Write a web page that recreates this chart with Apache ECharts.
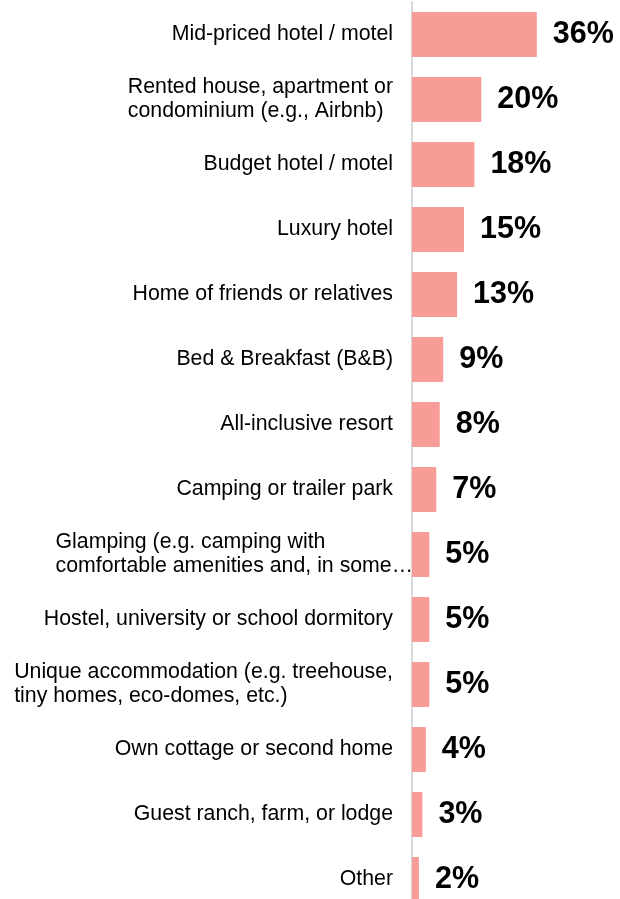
<!DOCTYPE html>
<html>
<head>
<meta charset="utf-8">
<script src="https://cdn.jsdelivr.net/npm/echarts@6/dist/echarts.min.js"></script>
<style>
  html, body { margin: 0; padding: 0; background: #ffffff; }
  #chart { width: 620px; height: 899px; }
</style>
</head>
<body>
<div id="chart"></div>
<script>
// Accommodation types, top to bottom
const categories = [
  "Mid-priced hotel / motel",
  "Rented house, apartment or\ncondominium (e.g., Airbnb)",
  "Budget hotel / motel",
  "Luxury hotel",
  "Home of friends or relatives",
  "Bed & Breakfast (B&B)",
  "All-inclusive resort",
  "Camping or trailer park",
  "Glamping (e.g. camping with\ncomfortable amenities and, in some\u2026",
  "Hostel, university or school dormitory",
  "Unique accommodation (e.g. treehouse,\ntiny homes, eco-domes, etc.)",
  "Own cottage or second home",
  "Guest ranch, farm, or lodge",
  "Other"
];

// Share of respondents (%)
const shares = [36, 20, 18, 15, 13, 9, 8, 7, 5, 5, 5, 4, 3, 2];

const FONT = "'Liberation Sans', Arial, sans-serif";
const BAR_COLOR = "#f89c98";

// Multi-line labels: lines left-aligned inside a right-aligned block.
function categoryLabel(value) {
  const lines = value.split("\n");
  if (lines.length === 1) return value;
  return lines.map(function (line) {
    const truncated = line.endsWith("\u2026");
    return "{" + (truncated ? "t" : "l") + "|" + line + "}";
  }).join("\n");
}

const richLine = { align: "left", fontSize: 21.3, lineHeight: 24, fontFamily: FONT, color: "#000000" };

const chart = echarts.init(document.getElementById("chart"), null, { renderer: "canvas" });
chart.setOption({
  backgroundColor: "#ffffff",
  animation: false,
  // 14 bands of 65px; the last band runs past the bottom edge
  grid: {
    left: 412, width: 208, top: 2, height: 910,
    containLabel: false,
    outerBoundsMode: "none"
  },
  xAxis: {
    type: "value",
    min: 0,
    max: 60,
    show: false
  },
  yAxis: {
    type: "category",
    inverse: true,
    data: categories,
    axisLine: { show: true, lineStyle: { color: "#d9d9d9", width: 2 } },
    axisTick: { show: false },
    splitLine: { show: false },
    axisLabel: {
      margin: 19,
      interval: 0,
      fontSize: 21.3,
      lineHeight: 24,
      fontFamily: FONT,
      color: "#000000",
      formatter: categoryLabel,
      rich: {
        l: richLine,
        t: Object.assign({}, richLine, { padding: [0, -20, 0, 0] })
      }
    }
  },
  series: [{
    type: "bar",
    data: shares,
    barWidth: 45,
    itemStyle: { color: BAR_COLOR },
    label: {
      show: true,
      position: "right",
      distance: 16,
      formatter: "{c}%",
      fontSize: 30.5,
      fontWeight: "bold",
      fontFamily: FONT,
      color: "#000000"
    }
  }]
});
</script>
</body>
</html>
